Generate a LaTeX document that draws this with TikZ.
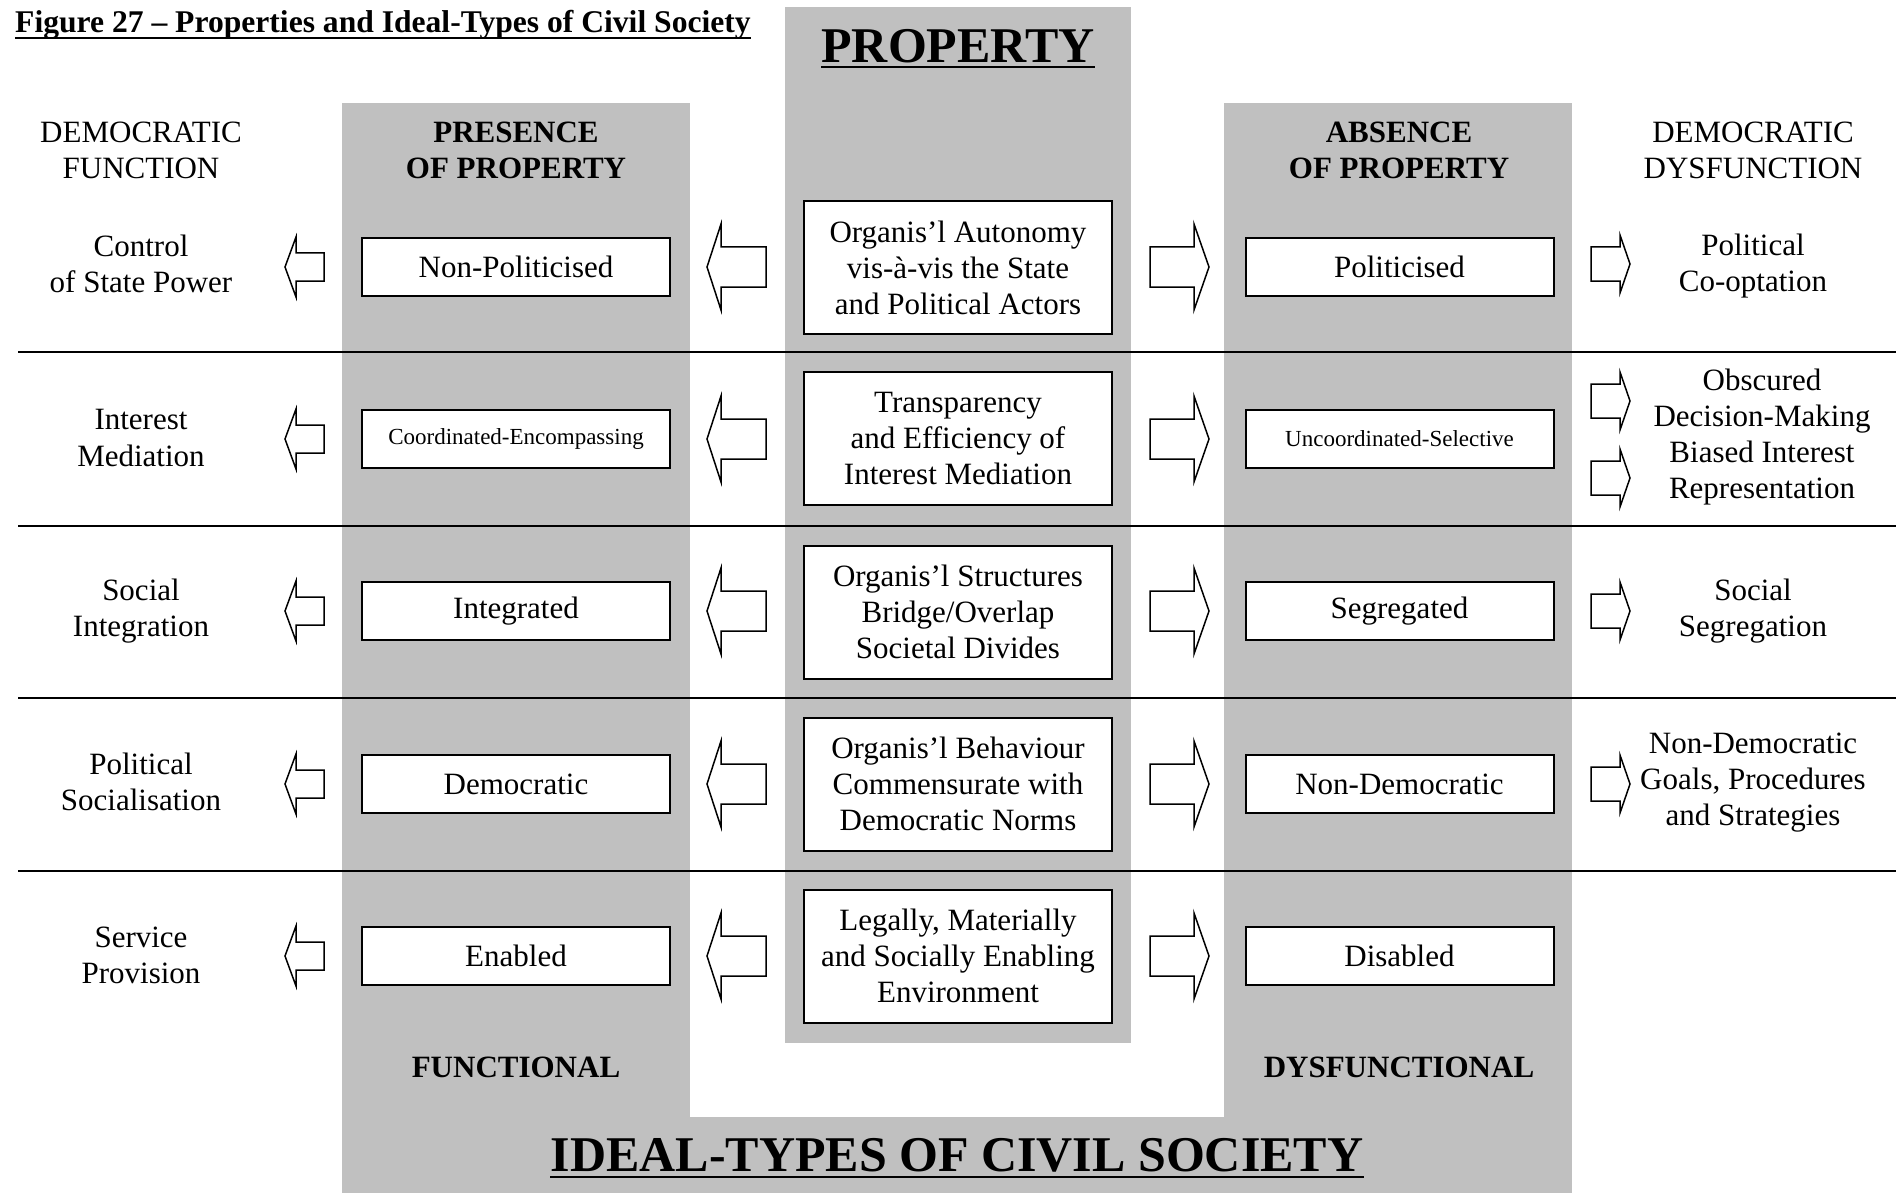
\documentclass[tikz,border=0pt]{standalone}
\usepackage{fontspec}
\setmainfont{Liberation Serif}
\definecolor{panel}{RGB}{192,192,192}
% hollow block arrow: tip x, head-base x, tail x, centre y, half shaft, half head
\newcommand\blockarrow[6]{%
  \draw[blk] (#1,#4) -- (#2,#4-#6) -- (#2,#4-#5) -- (#3,#4-#5)
    -- (#3,#4+#5) -- (#2,#4+#5) -- (#2,#4+#6) -- cycle;}
\begin{document}
\begin{tikzpicture}[x=1pt,y=-1pt,
  body/.style={font=\fontsize{31}{36}\selectfont, align=center, inner sep=0pt},
  head/.style={font=\bfseries\fontsize{31}{36}\selectfont, align=center, inner sep=0pt},
  cell/.style={draw, line width=2pt, fill=white, minimum width=308pt,
    minimum height=58pt, inner sep=0pt, font=\fontsize{31}{36}\selectfont},
  smalltext/.style={font=\fontsize{23}{28}\selectfont},
  core/.style={draw, line width=2pt, fill=white, minimum width=308pt,
    minimum height=133pt, inner sep=0pt, align=center, font=\fontsize{31}{36}\selectfont},
  rowrule/.style={line width=2.5pt},
  ul/.style={line width=2.5pt},
  blk/.style={draw, line width=1.5pt, fill=white, line join=miter},
]
\useasboundingbox (0,0) rectangle (1896,1193);

% shaded panels
\fill[panel] (342,103) rectangle (690,1193);
\fill[panel] (1224,103) rectangle (1572,1193);
\fill[panel] (342,1117) rectangle (1572,1193);
\fill[panel] (785,7) rectangle (1131,1043);

% row separators
\foreach \y in {352,526,698,871} \draw[rowrule] (18,\y) -- (1896,\y);

% title and main headings
\node[anchor=base west, inner sep=0pt, font=\bfseries\fontsize{31.6}{36}\selectfont]
  (title) at (15,33) {Figure 27 – Properties and Ideal-Types of Civil Society};
\draw[ul] ([yshift=-5pt]title.base west) -- ([yshift=-5pt]title.base east);

\node[anchor=base, inner sep=0pt, font=\bfseries\fontsize{50}{60}\selectfont]
  (prop) at (958,63) {PROPERTY};
\draw[ul] ([yshift=-4pt]prop.base west) -- ([yshift=-4pt]prop.base east);

\node[anchor=base, inner sep=0pt, font=\bfseries\fontsize{50}{60}\selectfont]
  (ideal) at (957,1171) {IDEAL-TYPES OF CIVIL SOCIETY};
\draw[ul] ([yshift=-6pt]ideal.base west) -- ([yshift=-6pt]ideal.base east);

\node[body] (hfun) at (141,150) {DEMOCRATIC\\FUNCTION};
\node[head] (hpres) at (516,150) {PRESENCE\\OF PROPERTY};
\node[head] (habs) at (1399,150) {ABSENCE\\OF PROPERTY};
\node[body] (hdys) at (1753,150) {DEMOCRATIC\\DYSFUNCTION};

\node[head, anchor=base] (func) at (516,1077) {FUNCTIONAL};
\node[head, anchor=base] (dysf) at (1399,1077) {DYSFUNCTIONAL};

% row 1
\node[body] (l1) at (141,264) {Control\\of State Power};
\node[cell] (p1) at (516,267) {Non-Politicised};
\node[core] (c1) at (958,267.5) {Organis’l Autonomy\\vis-à-vis the State\\and Political Actors};
\node[cell] (a1) at (1399.5,267) {Politicised};
\node[body] (r1) at (1753,266) {Political\\Co-optation};

% row 2
\node[body] (l2) at (141,438) {Interest\\Mediation};
\node[cell, smalltext] (p2) at (516,439) {Coordinated-Encompassing};
\node[core] (c2) at (958,438.5) {Transparency\\and Efficiency of\\Interest Mediation};
\node[cell, smalltext] (a2) at (1399.5,439) {Uncoordinated-Selective};
\node[body] (r2) at (1762,437) {Obscured\\Decision-Making\\Biased Interest\\Representation};

% row 3
\node[body] (l3) at (141,611) {Social\\Integration};
\node[cell] (p3) at (516,611) {Integrated};
\node[core] (c3) at (958,612) {Organis’l Structures\\Bridge/Overlap\\Societal Divides};
\node[cell] (a3) at (1399.5,611) {Segregated};
\node[body] (r3) at (1753,611) {Social\\Segregation};

% row 4
\node[body] (l4) at (141,782) {Political\\Socialisation};
\node[cell] (p4) at (516,784) {Democratic};
\node[core] (c4) at (958,784) {Organis’l Behaviour\\Commensurate with\\Democratic Norms};
\node[cell] (a4) at (1399.5,784) {Non-Democratic};
\node[body] (r4) at (1753,783) {Non-Democratic\\Goals, Procedures\\and Strategies};

% row 5
\node[body] (l5) at (141,955) {Service\\Provision};
\node[cell] (p5) at (516,956) {Enabled};
\node[core] (c5) at (958,956) {Legally, Materially\\and Socially Enabling\\Environment};
\node[cell] (a5) at (1399.5,956) {Disabled};

% block arrows
\foreach \r in {267,439,611,784,956} {
  \blockarrow{285}{296}{324}{\r}{14}{30}
  \blockarrow{707}{721}{766}{\r}{20}{43}
  \blockarrow{1209}{1194}{1150}{\r}{20}{43}
}
\foreach \r in {264,401,478,611,784} {
  \blockarrow{1630}{1620}{1591}{\r}{17}{29}
}
\end{tikzpicture}
\end{document}
